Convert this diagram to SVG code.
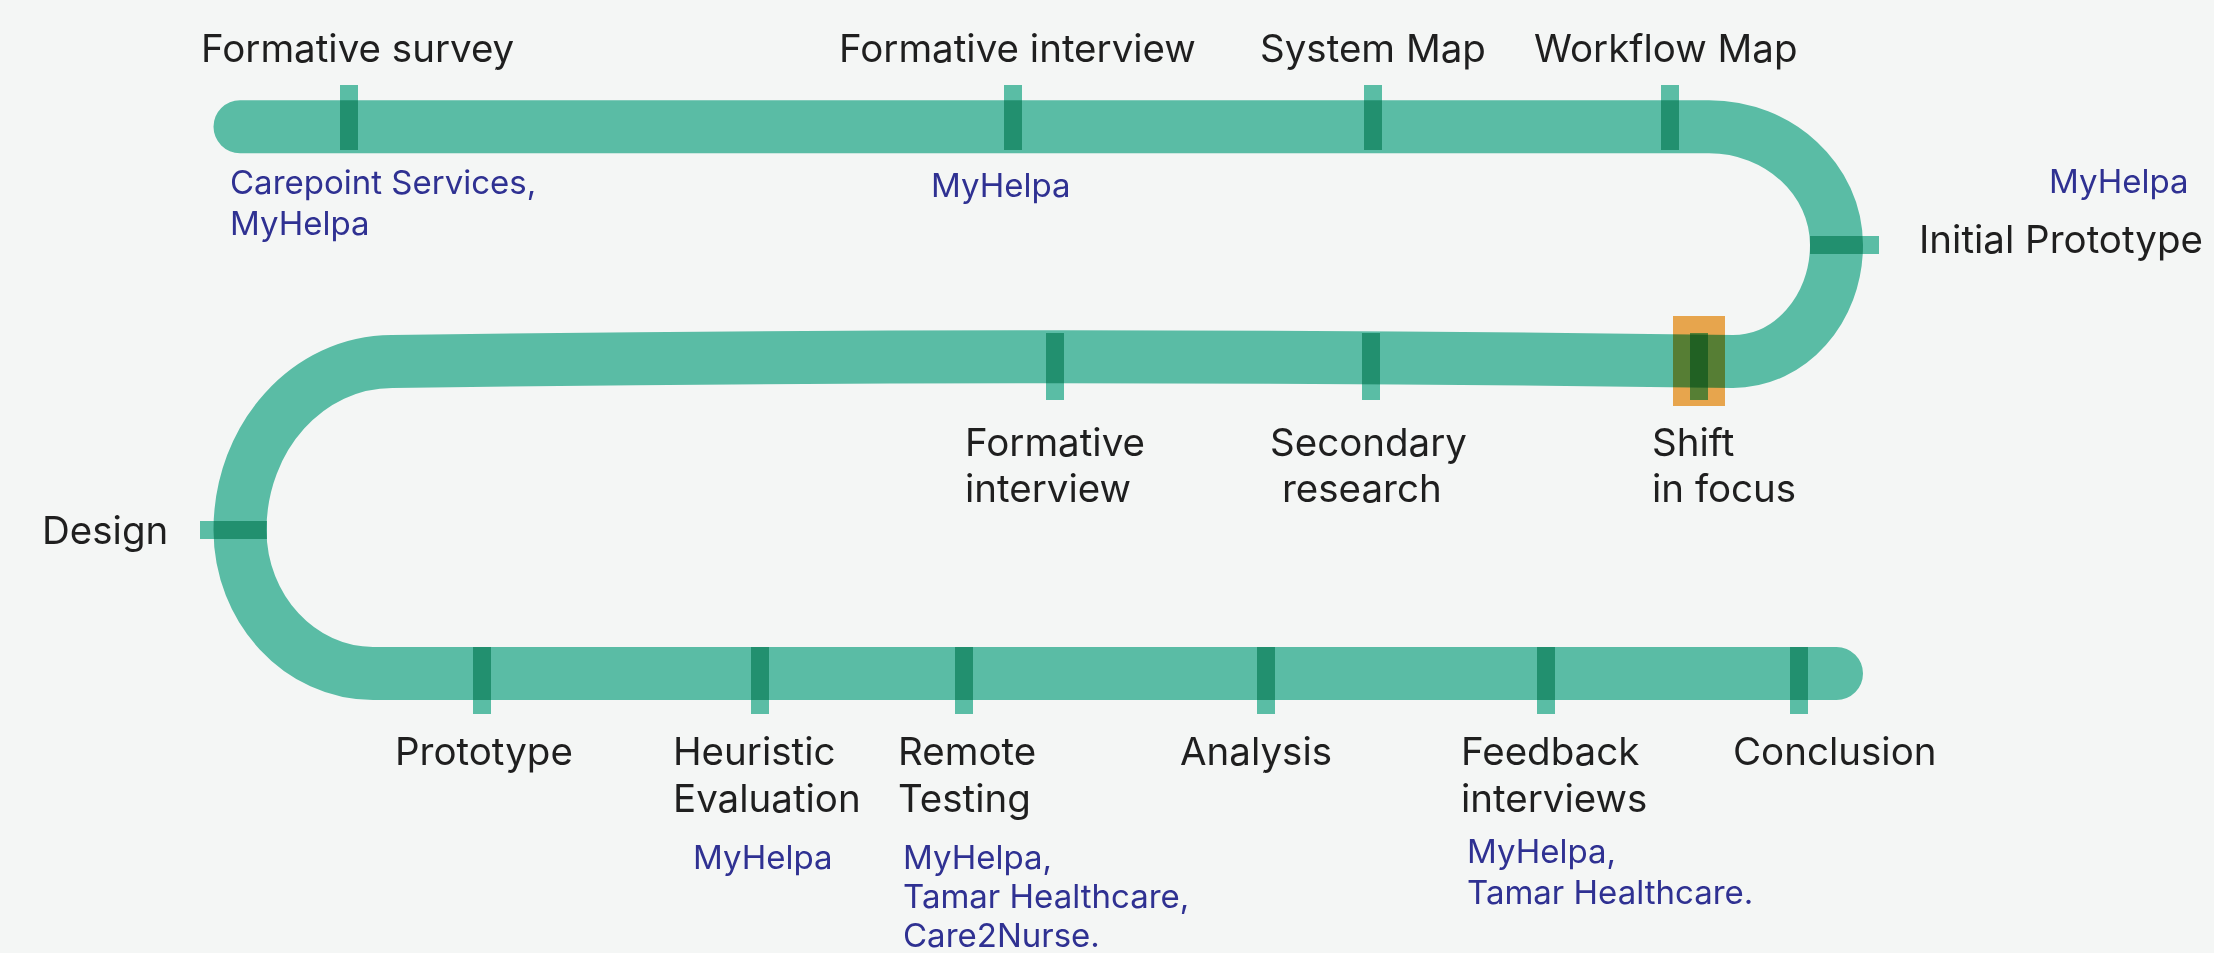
<svg xmlns="http://www.w3.org/2000/svg" width="2214" height="953" viewBox="0 0 2214 953">
  <style>
    .track { fill: none; stroke: #5abca5; stroke-width: 53; stroke-linecap: round; stroke-linejoin: round; }
    .tick { fill: #5ec4ac; mix-blend-mode: multiply; }
    .focus { fill: #f2ab50; mix-blend-mode: multiply; }
    .label { font-family: Inter, "Noto Sans", "Liberation Sans", sans-serif; font-size: 38.5px; fill: #1f1f1f; }
    .org { font-family: Inter, "Noto Sans", "Liberation Sans", sans-serif; font-size: 33px; fill: #2f3192; }
  </style>
  <rect width="2214" height="953" fill="#f4f6f5"/>

  <g id="connectors">
    <!-- the winding track: top run, right bend, middle run, left bend, bottom run -->
    <path class="track" d="M240,126.7 L1709,126.7 C1779,126.7 1836.5,179.7 1836.5,245 C1836.5,309.3 1790,361.5 1733,361.5 Q1062,352 392,361.5 C308,361.5 240,437 240,530 C240,609 300,673.5 373,673.5 L1836.5,673.5"/>
  </g>

  <!-- top run -->
  <g id="formative-survey">
    <rect class="tick" x="340" y="85" width="18" height="65"/>
    <text class="label" x="201" y="62">Formative survey</text>
    <text class="org" x="230" y="194">Carepoint Services,</text>
    <text class="org" x="230" y="235">MyHelpa</text>
  </g>
  <g id="formative-interview-1">
    <rect class="tick" x="1004" y="85" width="18" height="65"/>
    <text class="label" x="839" y="62">Formative interview</text>
    <text class="org" x="931" y="197">MyHelpa</text>
  </g>
  <g id="system-map">
    <rect class="tick" x="1364" y="85" width="18" height="65"/>
    <text class="label" x="1260" y="62">System Map</text>
  </g>
  <g id="workflow-map">
    <rect class="tick" x="1661" y="85" width="18" height="65"/>
    <text class="label" x="1534" y="62">Workflow Map</text>
  </g>

  <!-- right bend -->
  <g id="initial-prototype">
    <rect class="tick" x="1810" y="236" width="69" height="18"/>
    <text class="org" x="2049" y="193">MyHelpa</text>
    <text class="label" x="1919" y="253">Initial Prototype</text>
  </g>

  <!-- middle run -->
  <g id="formative-interview-2">
    <rect class="tick" x="1046" y="333" width="18" height="67"/>
    <text class="label" x="965" y="456">Formative</text>
    <text class="label" x="965" y="502">interview</text>
  </g>
  <g id="secondary-research">
    <rect class="tick" x="1362" y="333" width="18" height="67"/>
    <text class="label" x="1270" y="456">Secondary</text>
    <text class="label" x="1282" y="502">research</text>
  </g>
  <g id="shift-in-focus">
    <rect class="tick" x="1690" y="333" width="18" height="67"/>
    <rect class="focus" x="1673" y="316" width="52" height="90"/>
    <text class="label" x="1652" y="456">Shift</text>
    <text class="label" x="1652" y="502">in focus</text>
  </g>

  <!-- left bend -->
  <g id="design">
    <rect class="tick" x="200" y="521" width="67" height="18"/>
    <text class="label" x="42" y="544">Design</text>
  </g>

  <!-- bottom run -->
  <g id="prototype">
    <rect class="tick" x="473" y="647" width="18" height="67"/>
    <text class="label" x="395" y="765">Prototype</text>
  </g>
  <g id="heuristic-evaluation">
    <rect class="tick" x="751" y="647" width="18" height="67"/>
    <text class="label" x="673" y="765">Heuristic</text>
    <text class="label" x="673" y="812">Evaluation</text>
    <text class="org" x="693" y="869">MyHelpa</text>
  </g>
  <g id="remote-testing">
    <rect class="tick" x="955" y="647" width="18" height="67"/>
    <text class="label" x="898" y="765">Remote</text>
    <text class="label" x="898" y="812">Testing</text>
    <text class="org" x="903" y="869">MyHelpa,</text>
    <text class="org" x="903" y="908">Tamar Healthcare,</text>
    <text class="org" x="903" y="947">Care2Nurse.</text>
  </g>
  <g id="analysis">
    <rect class="tick" x="1257" y="647" width="18" height="67"/>
    <text class="label" x="1180" y="765">Analysis</text>
  </g>
  <g id="feedback-interviews">
    <rect class="tick" x="1537" y="647" width="18" height="67"/>
    <text class="label" x="1461" y="765">Feedback</text>
    <text class="label" x="1461" y="812">interviews</text>
    <text class="org" x="1467" y="863">MyHelpa,</text>
    <text class="org" x="1467" y="904">Tamar Healthcare.</text>
  </g>
  <g id="conclusion">
    <rect class="tick" x="1790" y="647" width="18" height="67"/>
    <text class="label" x="1733" y="765">Conclusion</text>
  </g>
</svg>
